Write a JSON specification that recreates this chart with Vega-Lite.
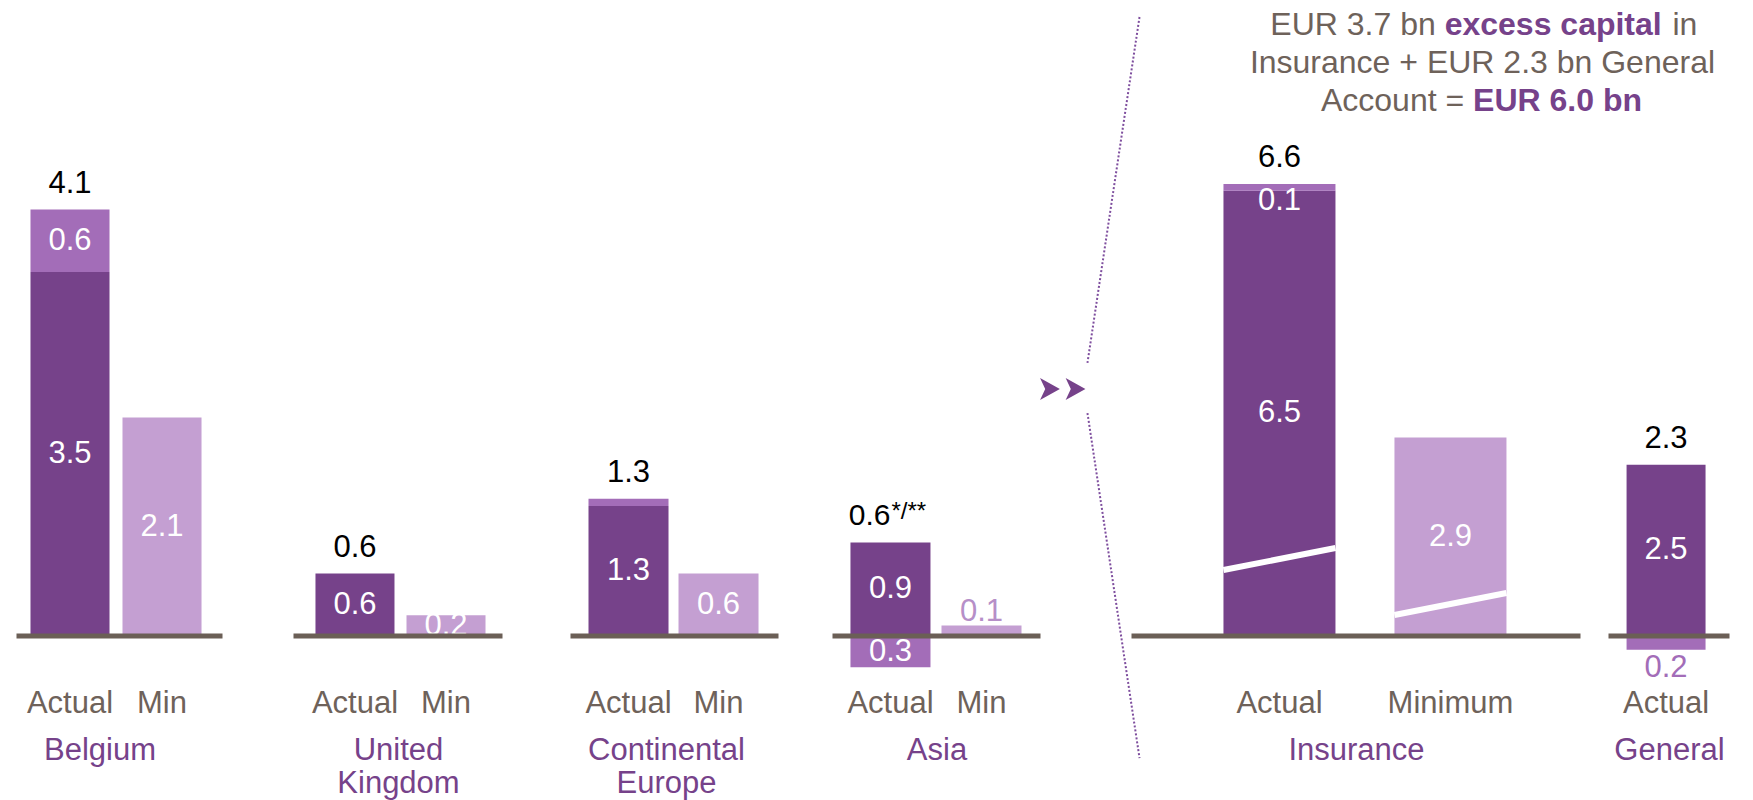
{
  "$schema": "https://vega.github.io/schema/vega-lite/v6.json",
  "padding": {"left": 13.5, "top": 9, "right": 10, "bottom": 5},
  "background": "#ffffff",
  "spacing": 0,
  "bounds": "flush",
  "datasets": {
    "belgium": [
      {"cat": "Actual", "part": "Base", "value": 3.5, "label": "3.5", "total": "4.1", "note": ""},
      {"cat": "Actual", "part": "Top-up", "value": 0.6, "label": "0.6", "total": "4.1", "note": ""},
      {"cat": "Min", "part": "Minimum", "value": 2.1, "label": "2.1", "total": "", "note": ""}
    ],
    "uk": [
      {"cat": "Actual", "part": "Base", "value": 0.6, "label": "0.6", "total": "0.6", "note": ""},
      {"cat": "Min", "part": "Minimum", "value": 0.2, "label": "0.2", "total": "", "note": ""}
    ],
    "ce": [
      {"cat": "Actual", "part": "Base", "value": 1.25, "label": "1.3", "total": "1.3", "note": ""},
      {"cat": "Actual", "part": "Top-up", "value": 0.07, "label": "", "total": "1.3", "note": ""},
      {"cat": "Min", "part": "Minimum", "value": 0.6, "label": "0.6", "total": "", "note": ""}
    ],
    "asia": [
      {"cat": "Actual", "part": "Base", "value": 0.9, "label": "0.9", "total": "0.6", "note": "*/**"},
      {"cat": "Actual", "part": "Deduction", "value": -0.3, "label": "0.3", "total": "0.6", "note": ""},
      {"cat": "Min", "part": "Minimum", "value": 0.1, "label": "0.1", "total": "", "note": ""}
    ],
    "insurance": [
      {"cat": "Actual", "part": "Base", "value": 6.5, "label": "6.5", "total": "6.6", "note": ""},
      {"cat": "Actual", "part": "Top-up", "value": 0.1, "label": "0.1", "total": "6.6", "note": ""},
      {"cat": "Minimum", "part": "Minimum", "value": 2.9, "label": "2.9", "total": "", "note": ""}
    ],
    "general": [
      {"cat": "Actual", "part": "Base", "value": 2.5, "label": "2.5", "total": "2.3", "note": ""},
      {"cat": "Actual", "part": "Deduction", "value": -0.2, "label": "0.2", "total": "2.3", "note": ""}
    ]
  },
  "hconcat": [
    {
      "width": 206, "height": 580, "data": {"name": "belgium"},
      "layer": [
        {"transform": [{"stack": "value", "groupby": ["cat"], "sort": [{"field": "part", "order": "ascending"}], "as": ["v0", "v1"]}],
         "mark": {"type": "bar"},
         "encoding": {
           "x": {"field": "cat", "type": "nominal", "scale": {"domain": ["Actual", "Min"], "paddingInner": 0.141, "paddingOuter": 0.19, "align": 0.4}, "axis": {"title": "Belgium", "titleX": 83}},
           "y": {"field": "v0", "type": "quantitative", "scale": {"domain": [-0.423, 5.154], "nice": false, "zero": false}, "axis": null},
           "y2": {"field": "v1"},
           "color": {"field": "part", "type": "nominal", "scale": {"domain": ["Base", "Top-up", "Minimum", "Deduction"], "range": ["#76428a", "#a36db8", "#c49fd2", "#a36db8"]}, "legend": null}}},
        {"transform": [{"stack": "value", "groupby": ["cat"], "sort": [{"field": "part", "order": "ascending"}], "as": ["v0", "v1"]}, {"filter": "datum.label !== ''"}, {"fold": ["v0", "v1"], "as": ["edge", "pos"]}],
         "mark": {"type": "text", "color": "#ffffff", "fontSize": 31, "baseline": "middle"},
         "encoding": {"x": {"field": "cat", "type": "nominal"}, "y": {"aggregate": "mean", "field": "pos", "type": "quantitative", "axis": null}, "text": {"field": "label", "type": "nominal"}, "detail": {"field": "part", "type": "nominal"}}},
        {"transform": [{"aggregate": [{"op": "count", "as": "n"}]}],
         "mark": {"type": "rule", "color": "#6b5f56", "strokeWidth": 5},
         "encoding": {"y": {"datum": 0, "axis": null}}},
        {"transform": [{"filter": "datum.total !== '' && datum.value > 0"}, {"aggregate": [{"op": "sum", "field": "value", "as": "top"}], "groupby": ["cat", "total"]}],
         "mark": {"type": "text", "color": "#000000", "fontSize": 31, "baseline": "alphabetic", "dy": -17},
         "encoding": {"x": {"field": "cat", "type": "nominal"}, "y": {"field": "top", "type": "quantitative", "axis": null}, "text": {"field": "total", "type": "nominal"}}}
      ]
    },
    {"width": 71, "height": 580, "data": {"values": [{}]}, "mark": {"type": "text", "text": ""}, "encoding": {}},
    {
      "width": 209, "height": 580, "data": {"name": "uk"},
      "layer": [
        {"transform": [{"stack": "value", "groupby": ["cat"], "sort": [{"field": "part", "order": "ascending"}], "as": ["v0", "v1"]}],
         "mark": {"type": "bar"},
         "encoding": {
           "x": {"field": "cat", "type": "nominal", "scale": {"domain": ["Actual", "Min"], "paddingInner": 0.132, "paddingOuter": 0.214, "align": 0.564}, "axis": {"title": ["United", "Kingdom"]}},
           "y": {"field": "v0", "type": "quantitative", "scale": {"domain": [-0.423, 5.154], "nice": false, "zero": false}, "axis": null},
           "y2": {"field": "v1"},
           "color": {"field": "part", "type": "nominal", "scale": {"domain": ["Base", "Top-up", "Minimum", "Deduction"], "range": ["#76428a", "#a36db8", "#c49fd2", "#a36db8"]}, "legend": null}}},
        {"transform": [{"stack": "value", "groupby": ["cat"], "sort": [{"field": "part", "order": "ascending"}], "as": ["v0", "v1"]}, {"filter": "datum.label !== ''"}, {"fold": ["v0", "v1"], "as": ["edge", "pos"]}],
         "mark": {"type": "text", "color": "#ffffff", "fontSize": 31, "baseline": "middle"},
         "encoding": {"x": {"field": "cat", "type": "nominal"}, "y": {"aggregate": "mean", "field": "pos", "type": "quantitative", "axis": null}, "text": {"field": "label", "type": "nominal"}, "detail": {"field": "part", "type": "nominal"}}},
        {"transform": [{"aggregate": [{"op": "count", "as": "n"}]}],
         "mark": {"type": "rule", "color": "#6b5f56", "strokeWidth": 5},
         "encoding": {"y": {"datum": 0, "axis": null}}},
        {"transform": [{"filter": "datum.total !== '' && datum.value > 0"}, {"aggregate": [{"op": "sum", "field": "value", "as": "top"}], "groupby": ["cat", "total"]}],
         "mark": {"type": "text", "color": "#000000", "fontSize": 31, "baseline": "alphabetic", "dy": -17},
         "encoding": {"x": {"field": "cat", "type": "nominal"}, "y": {"field": "top", "type": "quantitative", "axis": null}, "text": {"field": "total", "type": "nominal"}}}
      ]
    },
    {"width": 68, "height": 580, "data": {"values": [{}]}, "mark": {"type": "text", "text": ""}, "encoding": {}},
    {
      "width": 208, "height": 580, "data": {"name": "ce"},
      "layer": [
        {"transform": [{"stack": "value", "groupby": ["cat"], "sort": [{"field": "part", "order": "ascending"}], "as": ["v0", "v1"]}],
         "mark": {"type": "bar"},
         "encoding": {
           "x": {"field": "cat", "type": "nominal", "scale": {"domain": ["Actual", "Min"], "paddingInner": 0.111, "paddingOuter": 0.211, "align": 0.474}, "axis": {"title": ["Continental", "Europe"], "titleX": 95.5}},
           "y": {"field": "v0", "type": "quantitative", "scale": {"domain": [-0.423, 5.154], "nice": false, "zero": false}, "axis": null},
           "y2": {"field": "v1"},
           "color": {"field": "part", "type": "nominal", "scale": {"domain": ["Base", "Top-up", "Minimum", "Deduction"], "range": ["#76428a", "#a36db8", "#c49fd2", "#a36db8"]}, "legend": null}}},
        {"transform": [{"stack": "value", "groupby": ["cat"], "sort": [{"field": "part", "order": "ascending"}], "as": ["v0", "v1"]}, {"filter": "datum.label !== ''"}, {"fold": ["v0", "v1"], "as": ["edge", "pos"]}],
         "mark": {"type": "text", "color": "#ffffff", "fontSize": 31, "baseline": "middle"},
         "encoding": {"x": {"field": "cat", "type": "nominal"}, "y": {"aggregate": "mean", "field": "pos", "type": "quantitative", "axis": null}, "text": {"field": "label", "type": "nominal"}, "detail": {"field": "part", "type": "nominal"}}},
        {"transform": [{"aggregate": [{"op": "count", "as": "n"}]}],
         "mark": {"type": "rule", "color": "#6b5f56", "strokeWidth": 5},
         "encoding": {"y": {"datum": 0, "axis": null}}},
        {"transform": [{"filter": "datum.total !== '' && datum.value > 0"}, {"aggregate": [{"op": "sum", "field": "value", "as": "top"}], "groupby": ["cat", "total"]}],
         "mark": {"type": "text", "color": "#000000", "fontSize": 31, "baseline": "alphabetic", "dy": -17},
         "encoding": {"x": {"field": "cat", "type": "nominal"}, "y": {"field": "top", "type": "quantitative", "axis": null}, "text": {"field": "total", "type": "nominal"}}}
      ]
    },
    {"width": 54, "height": 580, "data": {"values": [{}]}, "mark": {"type": "text", "text": ""}, "encoding": {}},
    {
      "width": 208, "height": 580, "data": {"name": "asia"},
      "layer": [
        {"transform": [{"stack": "value", "groupby": ["cat"], "sort": [{"field": "part", "order": "ascending"}], "as": ["v0", "v1"]}],
         "mark": {"type": "bar"},
         "encoding": {
           "x": {"field": "cat", "type": "nominal", "scale": {"domain": ["Actual", "Min"], "paddingInner": 0.121, "paddingOuter": 0.203, "align": 0.486}, "axis": {"title": "Asia"}},
           "y": {"field": "v0", "type": "quantitative", "scale": {"domain": [-0.423, 5.154], "nice": false, "zero": false}, "axis": null},
           "y2": {"field": "v1"},
           "color": {"field": "part", "type": "nominal", "scale": {"domain": ["Base", "Top-up", "Minimum", "Deduction"], "range": ["#76428a", "#a36db8", "#c49fd2", "#a36db8"]}, "legend": null}}},
        {"transform": [{"stack": "value", "groupby": ["cat"], "sort": [{"field": "part", "order": "ascending"}], "as": ["v0", "v1"]}, {"filter": "datum.label !== '' && datum.part !== 'Minimum'"}, {"fold": ["v0", "v1"], "as": ["edge", "pos"]}],
         "mark": {"type": "text", "color": "#ffffff", "fontSize": 31, "baseline": "middle"},
         "encoding": {"x": {"field": "cat", "type": "nominal"}, "y": {"aggregate": "mean", "field": "pos", "type": "quantitative", "axis": null}, "text": {"field": "label", "type": "nominal"}, "detail": {"field": "part", "type": "nominal"}}},
        {"transform": [{"filter": "datum.part === 'Minimum'"}],
         "mark": {"type": "text", "color": "#b68fc8", "fontSize": 31, "baseline": "alphabetic", "dy": -5},
         "encoding": {"x": {"field": "cat", "type": "nominal"}, "y": {"field": "value", "type": "quantitative", "axis": null}, "text": {"field": "label", "type": "nominal"}}},
        {"transform": [{"aggregate": [{"op": "count", "as": "n"}]}],
         "mark": {"type": "rule", "color": "#6b5f56", "strokeWidth": 5},
         "encoding": {"y": {"datum": 0, "axis": null}}},
        {"transform": [{"filter": "datum.total !== '' && datum.value > 0"}, {"aggregate": [{"op": "sum", "field": "value", "as": "top"}], "groupby": ["cat", "total"]}],
         "mark": {"type": "text", "color": "#000000", "fontSize": 30, "baseline": "alphabetic", "align": "right", "dy": -17},
         "encoding": {"x": {"field": "cat", "type": "nominal"}, "y": {"field": "top", "type": "quantitative", "axis": null}, "text": {"field": "total", "type": "nominal"}}},
        {"transform": [{"filter": "datum.note !== ''"}],
         "mark": {"type": "text", "color": "#000000", "fontSize": 24, "baseline": "alphabetic", "align": "left", "dx": 1, "dy": -23},
         "encoding": {"x": {"field": "cat", "type": "nominal"}, "y": {"field": "value", "type": "quantitative", "axis": null}, "text": {"field": "note", "type": "nominal"}}}
      ]
    },
    {
      "width": 91, "height": 580, "data": {"values": [{}]},
      "layer": [
        {"mark": {"type": "rule", "color": "#7e4e9e", "strokeWidth": 2, "strokeDash": [2, 2]},
         "encoding": {
           "x": {"datum": 1.088, "type": "quantitative", "scale": {"domain": [0, 1], "nice": false, "zero": false}, "axis": null},
           "y": {"datum": 9.039, "type": "quantitative", "scale": {"domain": [-0.6425, 7.827], "nice": false, "zero": false}, "axis": null},
           "x2": {"datum": 0.516}, "y2": {"datum": 3.987}}},
        {"mark": {"type": "rule", "color": "#7e4e9e", "strokeWidth": 2, "strokeDash": [2, 2]},
         "encoding": {"x": {"datum": 0.516, "type": "quantitative", "axis": null}, "y": {"datum": 3.256, "type": "quantitative", "axis": null}, "x2": {"datum": 1.088}, "y2": {"datum": -1.782}}},
        {"mark": {"type": "point", "shape": "M-0.9,-1L0.9,0L-0.9,1L-0.43,0Z", "filled": true, "size": 484, "color": "#76428a", "opacity": 1},
         "encoding": {"x": {"datum": 0.104, "type": "quantitative", "axis": null}, "y": {"datum": 3.607, "type": "quantitative", "axis": null}}},
        {"mark": {"type": "point", "shape": "M-0.9,-1L0.9,0L-0.9,1L-0.43,0Z", "filled": true, "size": 484, "color": "#76428a", "opacity": 1},
         "encoding": {"x": {"datum": 0.385, "type": "quantitative", "axis": null}, "y": {"datum": 3.607, "type": "quantitative", "axis": null}}}
      ]
    },
    {
      "width": 449, "height": 580, "data": {"name": "insurance"},
      "layer": [
        {"transform": [{"stack": "value", "groupby": ["cat"], "sort": [{"field": "part", "order": "ascending"}], "as": ["v0", "v1"]}],
         "mark": {"type": "bar"},
         "encoding": {
           "x": {"field": "cat", "type": "nominal", "scale": {"domain": ["Actual", "Minimum"], "paddingInner": 0.345, "paddingOuter": 0.4854, "align": 0.554}, "axis": {"title": "Insurance"}},
           "y": {"field": "v0", "type": "quantitative", "scale": {"domain": [-0.6425, 7.827], "nice": false, "zero": false}, "axis": null},
           "y2": {"field": "v1"},
           "color": {"field": "part", "type": "nominal", "scale": {"domain": ["Base", "Top-up", "Minimum", "Deduction"], "range": ["#76428a", "#a36db8", "#c49fd2", "#a36db8"]}, "legend": null}}},
        {"data": {"values": [{}]},
         "mark": {"type": "rule", "color": "#ffffff", "strokeWidth": 6},
         "encoding": {"x": {"datum": "Actual", "bandPosition": 0}, "x2": {"datum": "Actual", "bandPosition": 1}, "y": {"datum": 0.964, "axis": null}, "y2": {"datum": 1.285}}},
        {"data": {"values": [{}]},
         "mark": {"type": "rule", "color": "#ffffff", "strokeWidth": 6},
         "encoding": {"x": {"datum": "Minimum", "bandPosition": 0}, "x2": {"datum": "Minimum", "bandPosition": 1}, "y": {"datum": 0.307, "axis": null}, "y2": {"datum": 0.628}}},
        {"transform": [{"stack": "value", "groupby": ["cat"], "sort": [{"field": "part", "order": "ascending"}], "as": ["v0", "v1"]}, {"filter": "datum.label !== '' && datum.part !== 'Top-up'"}, {"fold": ["v0", "v1"], "as": ["edge", "pos"]}],
         "mark": {"type": "text", "color": "#ffffff", "fontSize": 31, "baseline": "middle"},
         "encoding": {"x": {"field": "cat", "type": "nominal"}, "y": {"aggregate": "mean", "field": "pos", "type": "quantitative", "axis": null}, "text": {"field": "label", "type": "nominal"}, "detail": {"field": "part", "type": "nominal"}}},
        {"transform": [{"stack": "value", "groupby": ["cat"], "sort": [{"field": "part", "order": "ascending"}], "as": ["v0", "v1"]}, {"filter": "datum.part === 'Top-up'"}],
         "mark": {"type": "text", "color": "#ffffff", "fontSize": 31, "baseline": "top", "dy": 2},
         "encoding": {"x": {"field": "cat", "type": "nominal"}, "y": {"field": "v1", "type": "quantitative", "axis": null}, "text": {"field": "label", "type": "nominal"}}},
        {"transform": [{"aggregate": [{"op": "count", "as": "n"}]}],
         "mark": {"type": "rule", "color": "#6b5f56", "strokeWidth": 5},
         "encoding": {"y": {"datum": 0, "axis": null}}},
        {"transform": [{"filter": "datum.total !== '' && datum.value > 0"}, {"aggregate": [{"op": "sum", "field": "value", "as": "top"}], "groupby": ["cat", "total"]}],
         "mark": {"type": "text", "color": "#000000", "fontSize": 31, "baseline": "alphabetic", "dy": -17},
         "encoding": {"x": {"field": "cat", "type": "nominal"}, "y": {"field": "top", "type": "quantitative", "axis": null}, "text": {"field": "total", "type": "nominal"}}},
        {"data": {"values": [{}]},
         "mark": {"type": "text", "text": "EUR 3.7 bn", "color": "#6e625a", "fontSize": 32, "align": "right", "baseline": "alphabetic", "dx": -14.7},
         "encoding": {"x": {"datum": "Minimum"}, "y": {"datum": 8.776, "axis": null}}},
        {"data": {"values": [{}]},
         "mark": {"type": "text", "text": "excess capital", "color": "#76428a", "fontWeight": "bold", "fontSize": 32, "align": "left", "baseline": "alphabetic", "dx": -5.8},
         "encoding": {"x": {"datum": "Minimum"}, "y": {"datum": 8.776, "axis": null}}},
        {"data": {"values": [{}]},
         "mark": {"type": "text", "text": "in", "color": "#6e625a", "fontSize": 32, "align": "left", "baseline": "alphabetic", "dx": 222},
         "encoding": {"x": {"datum": "Minimum"}, "y": {"datum": 8.776, "axis": null}}},
        {"data": {"values": [{}]},
         "mark": {"type": "text", "text": "Insurance + EUR 2.3 bn  General", "color": "#6e625a", "fontSize": 32, "align": "center", "baseline": "alphabetic", "dx": 32},
         "encoding": {"x": {"datum": "Minimum"}, "y": {"datum": 8.226, "axis": null}}},
        {"data": {"values": [{}]},
         "mark": {"type": "text", "text": "Account =", "color": "#6e625a", "fontSize": 32, "align": "right", "baseline": "alphabetic", "dx": 13.7},
         "encoding": {"x": {"datum": "Minimum"}, "y": {"datum": 7.671, "axis": null}}},
        {"data": {"values": [{}]},
         "mark": {"type": "text", "text": "EUR 6.0 bn", "color": "#76428a", "fontWeight": "bold", "fontSize": 32, "align": "left", "baseline": "alphabetic", "dx": 22.6},
         "encoding": {"x": {"datum": "Minimum"}, "y": {"datum": 7.671, "axis": null}}}
      ]
    },
    {"width": 28, "height": 580, "data": {"values": [{}]}, "mark": {"type": "text", "text": ""}, "encoding": {}},
    {
      "width": 121, "height": 580, "data": {"name": "general"},
      "layer": [
        {"transform": [{"stack": "value", "groupby": ["cat"], "sort": [{"field": "part", "order": "ascending"}], "as": ["v0", "v1"]}],
         "mark": {"type": "bar"},
         "encoding": {
           "x": {"field": "cat", "type": "nominal", "scale": {"domain": ["Actual"], "paddingInner": 0, "paddingOuter": 0.266, "align": 0.43}, "axis": {"title": "General"}},
           "y": {"field": "v0", "type": "quantitative", "scale": {"domain": [-0.6425, 7.827], "nice": false, "zero": false}, "axis": null},
           "y2": {"field": "v1"},
           "color": {"field": "part", "type": "nominal", "scale": {"domain": ["Base", "Top-up", "Minimum", "Deduction"], "range": ["#76428a", "#a36db8", "#c49fd2", "#a36db8"]}, "legend": null}}},
        {"transform": [{"stack": "value", "groupby": ["cat"], "sort": [{"field": "part", "order": "ascending"}], "as": ["v0", "v1"]}, {"filter": "datum.label !== '' && datum.part !== 'Deduction'"}, {"fold": ["v0", "v1"], "as": ["edge", "pos"]}],
         "mark": {"type": "text", "color": "#ffffff", "fontSize": 31, "baseline": "middle"},
         "encoding": {"x": {"field": "cat", "type": "nominal"}, "y": {"aggregate": "mean", "field": "pos", "type": "quantitative", "axis": null}, "text": {"field": "label", "type": "nominal"}, "detail": {"field": "part", "type": "nominal"}}},
        {"transform": [{"stack": "value", "groupby": ["cat"], "sort": [{"field": "part", "order": "ascending"}], "as": ["v0", "v1"]}, {"filter": "datum.part === 'Deduction'"}],
         "mark": {"type": "text", "color": "#a36db8", "fontSize": 31, "baseline": "top", "dy": 3},
         "encoding": {"x": {"field": "cat", "type": "nominal"}, "y": {"field": "v1", "type": "quantitative", "axis": null}, "text": {"field": "label", "type": "nominal"}}},
        {"transform": [{"aggregate": [{"op": "count", "as": "n"}]}],
         "mark": {"type": "rule", "color": "#6b5f56", "strokeWidth": 5},
         "encoding": {"y": {"datum": 0, "axis": null}}},
        {"transform": [{"filter": "datum.total !== '' && datum.value > 0"}, {"aggregate": [{"op": "sum", "field": "value", "as": "top"}], "groupby": ["cat", "total"]}],
         "mark": {"type": "text", "color": "#000000", "fontSize": 31, "baseline": "alphabetic", "dy": -17},
         "encoding": {"x": {"field": "cat", "type": "nominal"}, "y": {"field": "top", "type": "quantitative", "axis": null}, "text": {"field": "total", "type": "nominal"}}}
      ]
    }
  ],
  "config": {
    "font": "Liberation Sans",
    "view": {"stroke": null},
    "axisY": {"disable": true},
    "axis": {
      "labelFont": "Liberation Sans", "titleFont": "Liberation Sans",
      "labelFontSize": 31, "labelColor": "#6e625a", "labelAngle": 0, "labelOverlap": false, "labelPadding": 8.5,
      "ticks": false, "tickSize": 0, "domain": false, "grid": false,
      "titleFontSize": 31, "titleFontWeight": "normal", "titleColor": "#76428a", "titlePadding": 17, "titleLineHeight": 33
    }
  }
}
